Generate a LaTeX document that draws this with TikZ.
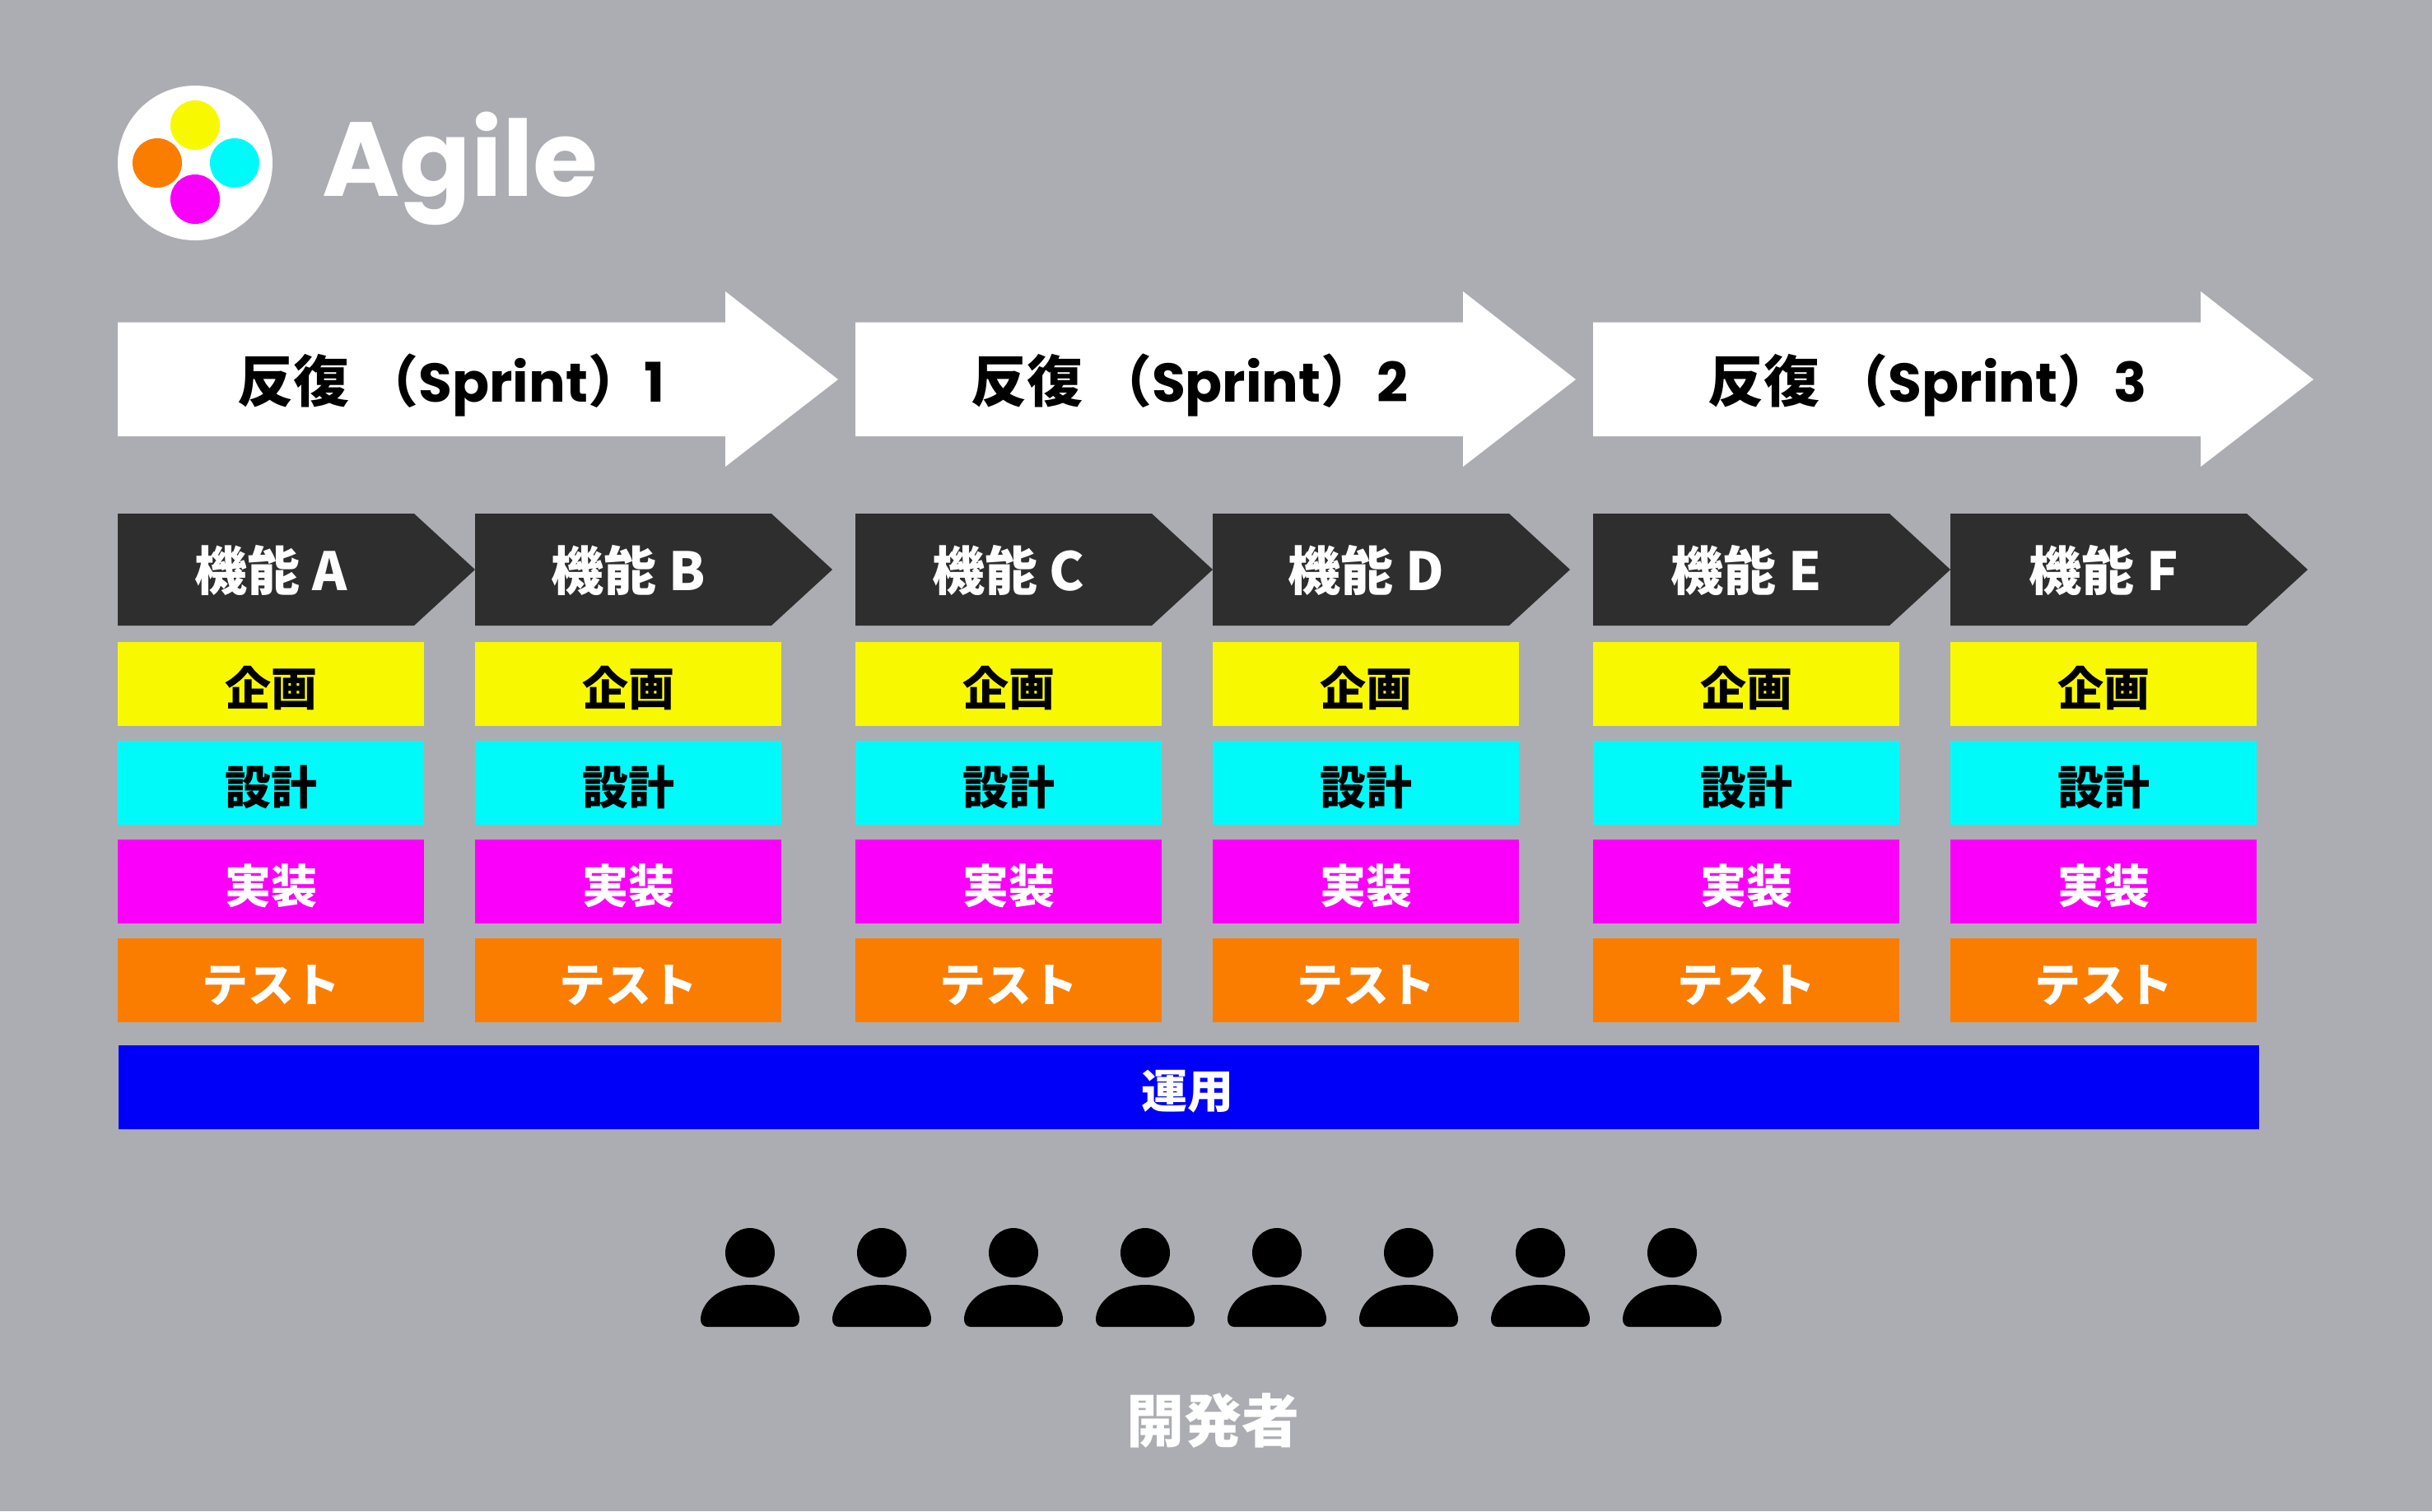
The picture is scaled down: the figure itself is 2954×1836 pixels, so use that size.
\documentclass[tikz,border=0pt]{standalone}
\usepackage{fontspec}
\setmainfont{Noto Sans CJK JP}
\newfontfamily\JJ{Noto Sans CJK JP}
\newfontfamily\PB{Poppins}
\newcommand{\latinpart}[1]{{\PB\fontsize{16.6pt}{20pt}\selectfont #1}}
\definecolor{bgc}{RGB}{172,173,178}
\definecolor{yel}{RGB}{248,249,0}
\definecolor{cya}{RGB}{0,250,250}
\definecolor{mag}{RGB}{250,0,250}
\definecolor{ora}{RGB}{250,125,0}
\definecolor{dar}{RGB}{46,46,46}
\definecolor{blu}{RGB}{0,0,250}
\tikzset{
  x=0.25pt,y=-0.25pt,
  lab/.style={anchor=base,inner sep=0pt,outer sep=0pt},
  sprintlab/.style={lab,text=black,font=\JJ\bfseries\fontsize{17pt}{20pt}\selectfont},
  featlab/.style={lab,text=white,font=\JJ\bfseries\fontsize{16pt}{18pt}\selectfont},
  boxlab/.style={lab,font=\JJ\bfseries\fontsize{14pt}{16pt}\selectfont},
  devlab/.style={lab,text=white,font=\JJ\bfseries\fontsize{17.5pt}{20pt}\selectfont},
  person/.style={fill=black},
}
\begin{document}
\begin{tikzpicture}
\fill[bgc] (0,0) rectangle (2954,1836);
% logo
\fill[white] (237,198) circle[radius=94];
\fill[yel] (237,152) circle[radius=30];
\fill[ora] (191,198) circle[radius=30];
\fill[cya] (285,198) circle[radius=30];
\fill[mag] (237,242) circle[radius=30];
\node[lab,anchor=base west,text=white,font=\PB\bfseries\fontsize{32pt}{36pt}\selectfont] (title) at (391,238) {Agile};
% sprints
\foreach \x/\tx/\n in {143/548/1,1039/1445/2,1935/2341/3}{
  \fill[white] (\x,391.5) -- ({\x+738},391.5) -- ({\x+738},354) -- ({\x+875},461) -- ({\x+738},567) -- ({\x+738},530) -- (\x,530) -- cycle;
  \node[sprintlab] (sprint\n) at (\tx,488) {反復 （\latinpart{Sprint}）\latinpart{\n}};
}
% features
\foreach \x/\n in {143/A,577/B,1039/C,1473/D,1935/E,2369/F}{
  \fill[dar] (\x,624) -- ({\x+360},624) -- ({\x+434},692) -- ({\x+360},760) -- (\x,760) -- cycle;
  \node[featlab] (feat\n) at ({\x+186},717) {機能 \n};
  \fill[yel] (\x,780) rectangle ({\x+372},881.5);
  \node[boxlab,text=black] (plan\n) at ({\x+186},857) {企画};
  \fill[cya] (\x,900) rectangle ({\x+372},1002);
  \node[boxlab,text=black] (design\n) at ({\x+186},977) {設計};
  \fill[mag] (\x,1020) rectangle ({\x+372},1122);
  \node[boxlab,text=white] (impl\n) at ({\x+186},1097) {実装};
  \fill[ora] (\x,1140) rectangle ({\x+372},1242);
  \node[boxlab,text=white] (test\n) at ({\x+186},1217) {テスト};
}
% operations
\fill[blu] (144,1270) rectangle (2744,1372);
\node[boxlab,text=white] (ops) at (1442,1346) {運用};
% people
\foreach \c in {911,1071,1231,1391,1551,1711,1871,2031}{
  \fill[person] (\c,1522) ellipse[x radius=30,y radius=30];
  \fill[person] ({\c-52},1612) -- ({\c+52},1612) .. controls ({\c+57},1612) and ({\c+60},1608) .. ({\c+60},1603)
    .. controls ({\c+60},1585) and ({\c+40},1561) .. (\c,1561)
    .. controls ({\c-40},1561) and ({\c-60},1585) .. ({\c-60},1603)
    .. controls ({\c-60},1608) and ({\c-57},1612) .. ({\c-52},1612) -- cycle;
}
\node[devlab] (dev) at (1473,1752) {開発者};
\end{tikzpicture}
\end{document}
